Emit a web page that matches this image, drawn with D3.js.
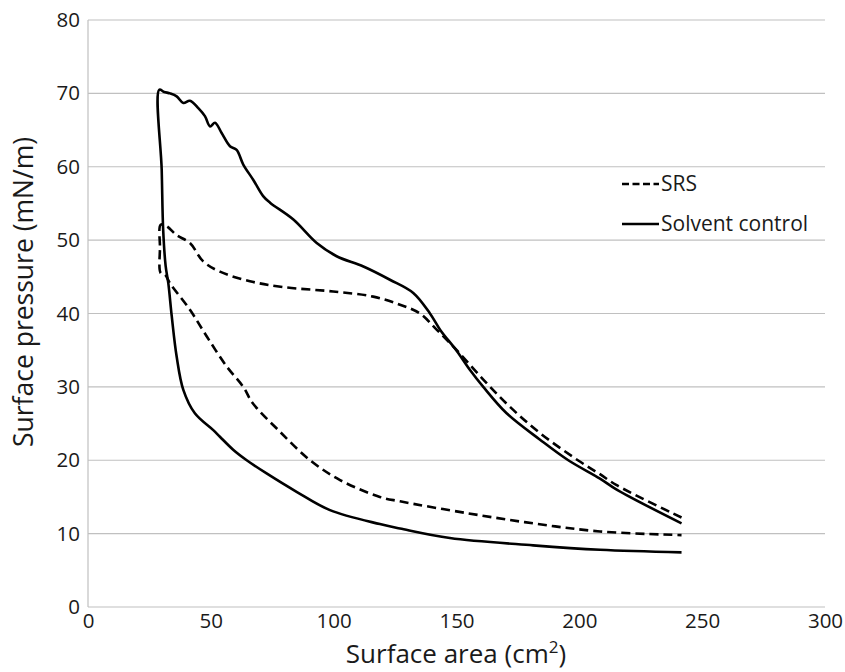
<!DOCTYPE html>
<html><head><meta charset="utf-8">
<script src="https://cdn.jsdelivr.net/npm/d3@7"></script>
<style>body{margin:0;background:#fff}svg{display:block}text{font-family:"Open Sans",sans-serif;fill:#1a1a1a}</style>
</head><body><div id="chart"></div>
<script>
const xTicks = [0, 50, 100, 150, 200, 250, 300];
const yTicks = [0, 10, 20, 30, 40, 50, 60, 70, 80];
const seriesNames = ["SRS", "Solvent control"];

// SRS: compression (upper) right to left, then expansion (lower) left to right
const srsArea = [241.6,215.2,208.4,199.4,184,172,160.9,150.1,141.9,135.1,127,116.1,99.8,79.5,65.9,53.7,46.9,41.5,36,32.0,29.6,29.3,29.6,31.3,33.4,41.5,48.3,56.4,63.2,67,78.1,90.4,102.6,118.8,127,154.1,181.2,208.4,241.6];
const srsPressure = [12.2,16.6,18.1,20.0,23.7,27.2,31.0,35.0,37.8,40.0,41.2,42.3,43.0,43.6,44.4,45.7,47.1,49.6,50.7,51.9,52.1,49.0,45.5,45.3,44.1,40.5,36.9,32.8,30.0,27.8,23.9,20.0,17.3,15.0,14.4,12.8,11.4,10.3,9.8];

// Solvent control
const solventArea = [241.6,215.2,208.4,195.5,184,170.4,160.9,155.5,150.1,143.3,139.2,132.4,122.9,112.1,101.2,93.1,83.6,74.1,71.3,67.3,63.2,60.5,57.8,54.4,51.7,49.7,47.6,44.9,41.5,38.8,36.1,33.4,31,29,30.0,30.6,31.6,32.7,34.1,36.1,38.8,43.5,51,53.7,59.2,64.6,72.7,84.9,98.5,118.8,127,147.3,181.2,208.4,241.6];
const solventPressure = [11.4,16.0,17.5,20.0,22.8,26.4,30.0,32.3,34.9,37.8,40.0,42.8,44.6,46.4,47.8,49.6,52.8,55.1,56.0,58.2,60.3,62.3,62.8,64.6,66.0,65.5,66.9,68.0,69.0,68.7,69.6,70.0,70.2,70.5,59.6,51.4,46.5,44.1,39.6,34.1,29.6,26.4,24.1,23.2,21.4,20.0,18.2,15.7,13.2,11.3,10.7,9.4,8.4,7.8,7.45];

const W = 845, H = 672;
const m = {left: 88, right: 20, top: 20, bottom: 65};
const svg = d3.select("#chart").append("svg").attr("width", W).attr("height", H);
const x = d3.scaleLinear().domain([0, 300]).range([m.left, W - m.right]);
const y = d3.scaleLinear().domain([0, 80]).range([H - m.bottom, m.top]);

// gridlines
svg.append("g").selectAll("line").data(yTicks).join("line")
  .attr("x1", x(0)).attr("x2", x(300)).attr("y1", d => y(d)).attr("y2", d => y(d))
  .attr("stroke", "#c0c0c0").attr("stroke-width", 1.2);
svg.append("line").attr("x1", x(0)).attr("x2", x(0)).attr("y1", y(0)).attr("y2", y(80))
  .attr("stroke", "#c0c0c0").attr("stroke-width", 1.2);

// axes labels via d3 axes
const yAxis = svg.append("g").attr("transform", `translate(${x(0)},0)`)
  .call(d3.axisLeft(y).tickValues(yTicks).tickSize(0).tickPadding(8));
const xAxis = svg.append("g").attr("transform", `translate(0,${y(0)})`)
  .call(d3.axisBottom(x).tickValues(xTicks).tickSize(0).tickPadding(6));
[yAxis, xAxis].forEach(a => {
  a.select(".domain").remove();
  a.selectAll("text").style("font-family", '"Open Sans",sans-serif').style("font-size", "20.5px").attr("fill", "#1a1a1a");
});

svg.append("text").attr("x", 456).attr("y", 663).attr("text-anchor", "middle")
  .style("font-size", "26px").html('Surface area (cm<tspan dy="-10" font-size="17">2</tspan><tspan dy="10">)</tspan>');
svg.append("text").attr("transform", `translate(33,${292}) rotate(-90)`).attr("text-anchor", "middle")
  .style("font-size", "26.5px").text("Surface pressure (mN/m)");

const line = d3.line().x(d => x(d[0])).y(d => y(d[1])).curve(d3.curveCatmullRom.alpha(0.5));
const srs = d3.zip(srsArea, srsPressure);
const sol = d3.zip(solventArea, solventPressure);

svg.append("path").datum(srs).attr("d", line).attr("fill", "none")
  .attr("stroke", "#000").attr("stroke-width", 2.6).attr("stroke-dasharray", "9,5");
svg.append("path").datum(sol).attr("d", line).attr("fill", "none")
  .attr("stroke", "#000").attr("stroke-width", 2.6).attr("stroke-linejoin", "round");

// legend
const lg = svg.append("g");
const items = [{name: seriesNames[0], dash: "7,3.5", y: 184}, {name: seriesNames[1], dash: null, y: 224}];
items.forEach(it => {
  lg.append("line").attr("x1", 622).attr("x2", 659).attr("y1", it.y).attr("y2", it.y)
    .attr("stroke", "#000").attr("stroke-width", 2.4).attr("stroke-dasharray", it.dash);
  lg.append("text").attr("x", 661).attr("y", it.y).attr("dy", "0.35em").style("font-size", "21px").text(it.name);
});
</script></body></html>
